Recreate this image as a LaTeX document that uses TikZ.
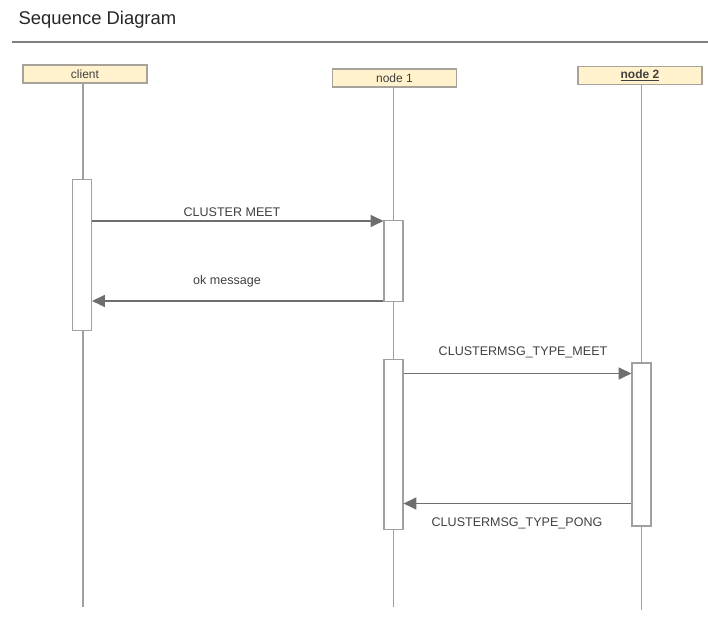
\documentclass[tikz,border=0pt]{standalone}
\usepackage{fontspec}
\setmainfont{Liberation Sans}
\usetikzlibrary{arrows.meta, positioning}

\definecolor{headfill}{HTML}{FFF2CC}
\definecolor{headline}{HTML}{A8A39A}
\definecolor{lifegray}{HTML}{A0A0A0}
\definecolor{msggray}{HTML}{6E6E6E}

\begin{document}
\begin{tikzpicture}[
		x=0.75pt, y=-0.75pt,
		actor/.style ={
			rectangle,	draw=headline,	fill=headfill,	line width=1.2pt,
			inner sep=0pt,	minimum width=93pt,	minimum height=13.5pt,
			font=\fontsize{9}{10}\selectfont, text=black!75
		},
		activ/.style ={
			rectangle,	draw=lifegray,	fill=white,	line width=1.2pt,
			inner sep=0pt,	minimum width=14pt
		},
		life/.style ={draw=lifegray, line width=1.1pt},
		msg/.style ={
			draw=msggray, line width=1.3pt,
			-{Triangle[length=9.5pt, width=9pt]}
		},
		lbl/.style ={font=\fontsize{9.4}{11}\selectfont, text=black!75},
	]

	\newcommand{\xcli}{83}
	\newcommand{\xone}{393.5}
	\newcommand{\xtwo}{641.5}

	\useasboundingbox (0,0) rectangle (708,623);

	% title
	\node (title) [anchor=west, font=\fontsize{13.8}{15}\selectfont, text=black!85] at (14,20) {Sequence Diagram};
	\coordinate (sepl) at (12,42);
	\coordinate (sepr) at (708,42);
	\draw [draw=black!50, line width=1.1pt] (sepl) -- (sepr);

	% participants
	\node (client) [actor] at (85,74)    {client};
	\node (node1)  [actor] at (394.5,78) {node 1};
	\node (node2)  [actor] at (640,75.5) {\underline{\textbf{node 2}}};

	% lifelines
	\coordinate (endc) at (\xcli,607);
	\coordinate (end1) at (\xone,607);
	\coordinate (end2) at (\xtwo,610);
	\draw [life] (client.south -| endc) -- (endc);
	\draw [life] (node1.south -| end1)  -- (end1);
	\draw [life] (node2.south -| end2)  -- (end2);

	% activations
	\node (actc)  [activ, minimum height=113pt]   at (82,255)      {};
	\node (act1a) [activ, minimum height=61pt]    at (\xone,261)   {};
	\node (act1b) [activ, minimum height=127.5pt] at (\xone,444.5) {};
	\node (act2)  [activ, minimum height=122.5pt] at (\xtwo,444.5) {};

	% messages
	\coordinate (m1) at (0,221);
	\coordinate (m2) at (0,301);
	\coordinate (m3) at (0,373.5);
	\coordinate (m4) at (0,503.5);

	\draw [msg] (actc.east |- m1)  -- (act1a.west |- m1);
	\draw [msg] (act1a.west |- m2) -- (actc.east |- m2);
	\draw [msg] (act1b.east |- m3) -- (act2.west |- m3);
	\draw [msg] (act2.west |- m4)  -- (act1b.east |- m4);

	\node (lbl1) [lbl] at (232,212.5) {CLUSTER MEET};
	\node (lbl2) [lbl] at (227,281)   {ok message};
	\node (lbl3) [lbl] at (523,352.5) {CLUSTERMSG\_TYPE\_MEET};
	\node (lbl4) [lbl] at (517,523.5) {CLUSTERMSG\_TYPE\_PONG};

\end{tikzpicture}
\end{document}
